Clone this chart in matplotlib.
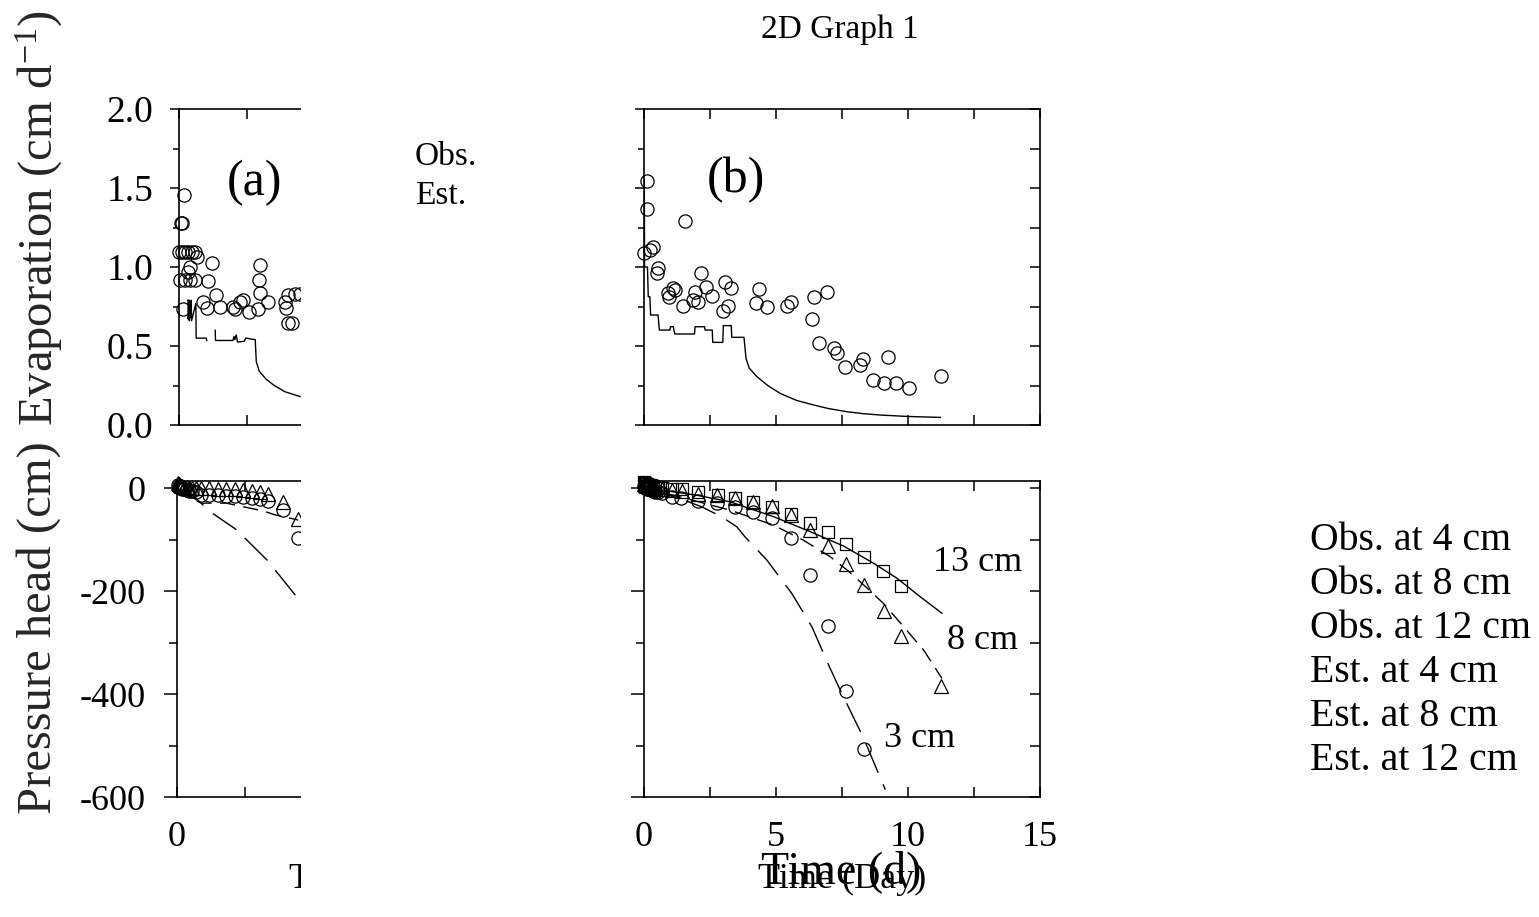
import matplotlib
matplotlib.use("Agg")
import matplotlib.pyplot as plt
import numpy as np
from matplotlib.patches import Rectangle
from matplotlib.ticker import MultipleLocator, FuncFormatter

plt.rcParams['font.family'] = ['Liberation Serif', 'DejaVu Serif']
plt.rcParams['mathtext.fontset'] = 'custom'
plt.rcParams['mathtext.rm'] = 'Liberation Serif'
plt.rcParams['mathtext.it'] = 'Liberation Serif:italic'

# ---------------- data: evaporation ----------------
# (a) observed evaporation
evap_a_obs_t = [0.18, 0.08, 0.12, 0.0, 0.10, 0.22, 0.34, 0.47, 0.59, 0.67, 0.40, 1.20, 0.34,
                0.04, 0.22, 0.40, 0.59, 1.08, 2.98, 2.95, 2.98, 1.36, 3.28, 0.87, 1.02, 1.51,
                1.97, 2.06, 2.36, 2.24, 2.57, 2.92, 3.90, 3.93, 4.02, 4.14, 4.02, 4.26, 4.45, 0.14]
evap_a_obs_v = [1.456, 1.276, 1.276, 1.097, 1.097, 1.097, 1.097, 1.097, 1.097, 1.065, 1.002, 1.028, 0.97,
                0.918, 0.918, 0.918, 0.918, 0.912, 1.013, 0.918, 0.833, 0.823, 0.781, 0.776, 0.738, 0.749,
                0.749, 0.732, 0.791, 0.78, 0.713, 0.732, 0.781, 0.738, 0.643, 0.643, 0.823, 0.827, 0.827, 0.732]
# (a) estimated evaporation (gaps as NaN)
evap_a_est_t = [0.33, 0.34, 0.37, 0.38, 0.41, 0.42, 0.45, 0.46, 0.62, 0.63, 1.00, 1.02, np.nan,
                1.33, 1.34, 1.98, 2.02, 2.05, 2.10, 2.15, 2.40, 2.45, 2.80, 2.84, 2.95, 3.20, 3.50, 3.90, 4.45]
evap_a_est_v = [0.79, 0.67, 0.79, 0.66, 0.78, 0.68, 0.79, 0.66, 0.77, 0.55, 0.55, 0.535, np.nan,
                0.60, 0.535, 0.535, 0.56, 0.54, 0.57, 0.525, 0.53, 0.55, 0.54, 0.40, 0.34, 0.29, 0.25, 0.21, 0.18]

# (b) observed evaporation
evap_b_obs_t = [0.12, 0.14, 0.00, 0.25, 0.35, 1.57, 0.56, 0.52, 0.94, 1.13, 0.98, 1.19, 1.51, 1.95,
                1.89, 2.08, 2.18, 2.37, 2.58, 3.09, 3.30, 3.21, 3.00, 4.38, 4.25, 4.69, 5.42, 5.59,
                6.46, 6.94, 6.37, 6.65, 7.22, 7.32, 7.63, 8.20, 8.30, 8.68, 9.11, 9.24, 9.55, 10.06, 11.26]
evap_b_obs_v = [1.544, 1.365, 1.087, 1.108, 1.128, 1.293, 0.992, 0.96, 0.834, 0.865, 0.812, 0.854, 0.755, 0.844,
                0.791, 0.78, 0.96, 0.872, 0.816, 0.907, 0.869, 0.755, 0.723, 0.859, 0.77, 0.745, 0.755, 0.78,
                0.812, 0.842, 0.671, 0.521, 0.485, 0.454, 0.369, 0.38, 0.416, 0.285, 0.268, 0.432, 0.268, 0.232, 0.312]
# (b) estimated evaporation
evap_b_est_t = [0.03, 0.04, 0.15, 0.18, 0.24, 0.27, 0.55, 0.60, 1.00, 1.02, 1.13, 1.15, 1.19, 1.93, 1.95,
                2.31, 2.33, 2.60, 2.62, 3.00, 3.02, 3.32, 3.34, 3.80, 3.88, 4.00, 4.29, 4.70, 5.17, 5.80,
                6.43, 7.00, 7.70, 8.30, 8.96, 10.00, 11.23]
evap_b_est_v = [1.55, 1.00, 1.00, 0.812, 0.812, 0.696, 0.696, 0.601, 0.601, 0.622, 0.622, 0.60, 0.576, 0.576, 0.622,
                0.622, 0.601, 0.601, 0.523, 0.523, 0.629, 0.629, 0.555, 0.555, 0.42, 0.36, 0.306, 0.25, 0.20, 0.155,
                0.127, 0.104, 0.084, 0.072, 0.063, 0.054, 0.048]

# ---------------- data: pressure head ----------------
early_t = [0.02, 0.06, 0.10, 0.15, 0.20, 0.27, 0.35, 0.45, 0.55, 0.70]
# (a)
ph_a_obs8_t = early_t + [0.88, 1.19, 1.50, 1.81, 2.12, 2.43, 2.74, 3.05, 3.36, 3.90, 4.45]
ph_a_obs8_v = [10, 8, 6, 5, 4, 3, 2, 1, 1, 0] + [0, 0, -1, -1, -2, -3, -5, -8, -12, -26, -60]
ph_a_obs4_t = early_t + [0.88, 1.19, 1.50, 1.81, 2.12, 2.43, 2.74, 3.05, 3.36, 3.90, 4.45]
ph_a_obs4_v = [6, 4, 2, 0, -1, -2, -3, -5, -6, -8] + [-13, -13, -14, -15, -16, -18, -19, -21, -25, -42, -97]
ph_a_est4_t = [0.0, 0.6, 1.20, 2.18, np.nan, 2.49, 3.35, 3.59, 4.32, 4.45]
ph_a_est4_v = [0.0, -15, -45, -80.5, np.nan, -96.7, -141.8, -158, -206, -215]
ph_a_est8_t = [0.0, 0.47, 0.89, 1.81, 2.67, 3.16, 3.59, 4.39, 4.45]
ph_a_est8_v = [0.0, -18, -29, -29, -38.7, -44, -51.6, -61, -62]

# (b)
ph_b_obs12_t = early_t + [1.07, 1.45, 2.08, 2.80, 3.47, 4.16, 4.88, 5.59, 6.28, 6.98, 7.67, 8.36, 9.06, 9.75]
ph_b_obs12_v = [12, 10, 9, 8, 7, 6, 4, 3, 2, 1] + [-0.6, -2.5, -7.2, -13.6, -18.8, -26.6, -36.3, -49.2,
                                                  -67.4, -84.9, -108.7, -134.6, -161.2, -190.3]
ph_b_obs8_t = early_t + [1.07, 1.45, 2.08, 2.77, 3.47, 4.16, 4.88, 5.59, 6.28, 6.98, 7.67, 8.36, 9.08, 9.75, 11.27]
ph_b_obs8_v = [8, 6, 5, 4, 3, 2, 1, 0, -1, -1] + [-4, -6, -10.4, -13.6, -20, -26.6, -35, -52.4, -81.6, -112,
                                                -147.6, -188, -238, -287, -384.5]
ph_b_obs4_t = early_t + [1.07, 1.42, 2.08, 2.77, 3.47, 4.16, 4.88, 5.59, 6.28, 6.98, 7.67, 8.36]
ph_b_obs4_v = [4, 2, 0, -1, -2, -3, -5, -7, -8, -10] + [-16.8, -20, -24.6, -29.7, -36.3, -46, -57, -96.5,
                                                      -169, -268, -393.6, -506.8]
ph_b_est12_t = [0.0, 1.0, 2.01, 3.28, 4.92, 6.31, 7.57, 8.71, 9.59, 10.47, 11.29]
ph_b_est12_v = [0.0, -6, -13.6, -26.5, -55.3, -84.5, -112.4, -146, -175, -211, -243]
ph_b_est8_t = [0.0, 0.7, 1.38, 3.28, 4.92, 6.05, 7.06, 7.70, 8.33, 9.08, 9.84, 10.6, 11.29]
ph_b_est8_v = [0.0, -8, -16.8, -42.7, -71.8, -101, -133, -159, -188, -224, -269, -314.6, -369.6]
ph_b_est4_t = [0.0, 1.38, 2.20, 2.96, 3.53, 3.84, 4.67, 5.61, 6.37, 7.06, 7.44, 8.33, 9.15]
ph_b_est4_v = [0.0, -20, -36.2, -55.6, -75, -94.5, -139.8, -204.5, -269.3, -350, -392, -486, -586]

legend_rows = ["Obs. at 4 cm", "Obs. at 8 cm", "Obs. at 12 cm",
               "Est. at 4 cm", "Est. at 8 cm", "Est. at 12 cm"]

# ---------------- figure ----------------
W, H = 1539, 917
fig = plt.figure(figsize=(W / 100, H / 100), dpi=100)


def box(x0, y0, x1, y1):
    return [x0 / W, 1 - y1 / H, (x1 - x0) / W, (y1 - y0) / H]


ax_ea = fig.add_axes(box(179, 109, 571, 425))
ax_eb = fig.add_axes(box(643.5, 109, 1040, 425))
ax_pa = fig.add_axes(box(177, 481, 569, 797))
ax_pb = fig.add_axes(box(643.5, 481, 1040, 797))


def style(ax, xmax, ylim, ymaj, ymin, ylabels, xlabels, ymajlen, yminlen, ypad, yfs):
    ax.set_xlim(0, xmax)
    ax.set_ylim(*ylim)
    ax.xaxis.set_major_locator(MultipleLocator(5))
    ax.xaxis.set_minor_locator(MultipleLocator(2.5))
    ax.yaxis.set_major_locator(MultipleLocator(ymaj))
    ax.yaxis.set_minor_locator(MultipleLocator(ymin))
    ax.tick_params(axis='y', which='major', direction='out', length=ymajlen, width=1.1,
                   left=True, right=False, labelleft=ylabels, labelsize=yfs, pad=ypad)
    ax.tick_params(axis='y', which='minor', direction='out', length=yminlen, width=1.1,
                   left=True, right=False)
    ax.tick_params(axis='x', which='both', direction='in', length=7, width=1.1,
                   top=True, bottom=True, labelbottom=xlabels, labelsize=26, pad=17)
    for s in ax.spines.values():
        s.set_linewidth(1.2)
    # inward ticks on the right-hand side
    tw = ax.twinx()
    tw.set_ylim(*ylim)
    tw.yaxis.set_major_locator(MultipleLocator(ymaj))
    tw.yaxis.set_minor_locator(MultipleLocator(ymin))
    tw.tick_params(axis='y', which='both', direction='in', length=7, width=1.1,
                   right=True, labelright=False)
    for s in tw.spines.values():
        s.set_visible(False)


style(ax_ea, 14.4, (0, 2.0), 0.5, 0.25, True, False, 6.5, 4.3, 12, 27)
style(ax_eb, 15, (0, 2.0), 0.5, 0.25, False, False, 6.5, 4.3, 12, 27)
style(ax_pa, 14.4, (-600, 14), 200, 100, True, True, 9.4, 5.8, 13, 26)
style(ax_pb, 15, (-600, 14), 200, 100, False, True, 9.4, 5.8, 13, 26)
ax_ea.yaxis.set_major_formatter(FuncFormatter(lambda v, p: f"{v:.1f}"))
for ax in (ax_pa, ax_pb):
    ax.yaxis.set_major_formatter(FuncFormatter(lambda v, p: f"{int(round(v))}"))
    ax.xaxis.set_major_formatter(FuncFormatter(lambda v, p: f"{int(round(v))}"))

circ = dict(marker='o', ms=9.5, mfc='none', mec='black', mew=0.9, ls='none', clip_on=False)
tri = dict(marker='^', ms=10, mfc='none', mec='black', mew=0.9, ls='none', clip_on=False)
sq = dict(marker='s', ms=8.5, mfc='none', mec='black', mew=0.9, ls='none', clip_on=False)

LW = 1.0
MED = (0, (11, 6))
LONG = (0, (23, 9))

ax_ea.plot(evap_a_obs_t, evap_a_obs_v, **circ)
ax_ea.plot(evap_a_est_t, evap_a_est_v, color='black', lw=LW)
ax_eb.plot(evap_b_obs_t, evap_b_obs_v, **circ)
ax_eb.plot(evap_b_est_t, evap_b_est_v, color='black', lw=LW)

ax_pa.plot(ph_a_obs4_t, ph_a_obs4_v, **circ)
ax_pa.plot(ph_a_obs8_t, ph_a_obs8_v, **tri)
ax_pa.plot(ph_a_est4_t, ph_a_est4_v, color='black', lw=LW, ls=LONG)
ax_pa.plot(ph_a_est8_t, ph_a_est8_v, color='black', lw=LW, ls=MED)

ax_pb.plot(ph_b_obs4_t, ph_b_obs4_v, **circ)
ax_pb.plot(ph_b_obs8_t, ph_b_obs8_v, **tri)
ax_pb.plot(ph_b_obs12_t, ph_b_obs12_v, **sq)
ax_pb.plot(ph_b_est4_t, ph_b_est4_v, color='black', lw=LW, ls=LONG)
ax_pb.plot(ph_b_est8_t, ph_b_est8_v, color='black', lw=LW, ls=MED)
ax_pb.plot(ph_b_est12_t, ph_b_est12_v, color='black', lw=LW)

# panel letters and depth labels
ax_ea.text(2.76, 1.53, "(a)", fontsize=36, ha='center', va='center')
ax_eb.text(3.5, 1.55, "(b)", fontsize=36, ha='center', va='center')
ax_pb.text(12.63, -144, "13 cm", fontsize=26, ha='center', va='center')
ax_pb.text(12.82, -295, "8 cm", fontsize=26, ha='center', va='center')
ax_pb.text(10.44, -487, "3 cm", fontsize=26, ha='center', va='center')

# x labels of both panels
for ax in (ax_pa, ax_pb):
    ax.set_xlabel("Time (Day)", fontsize=26, labelpad=7)

# titles (the left one sits under the mask)
fig.text(379 / W, 1 - 30 / H, "2D Graph 1", fontsize=24, ha='center', va='center', zorder=2)
fig.text(840 / W, 1 - 30 / H, "2D Graph 1", fontsize=24, ha='center', va='center', zorder=7)

# white mask over the right part of the left panels
fig.add_artist(Rectangle((301 / W, 0), (626 - 301) / W, 1, transform=fig.transFigure,
                         facecolor='white', edgecolor='none', zorder=5))

# legend of the evaporation panels
fig.text(415 / W, 1 - 157 / H, "Obs.", fontsize=24, ha='left', va='center', zorder=7)
fig.text(415 / W, 1 - 196 / H, "Est.", fontsize=24, ha='left', va='center', zorder=7)

# legend of the pressure head panels
for i, row in enumerate(legend_rows):
    fig.text(1310 / W, 1 - (541 + 44 * i) / H, row, fontsize=28.6, ha='left', va='center', zorder=7)

# shared axis titles
fig.text(841 / W, 1 - 872 / H, "Time (d)", fontsize=33, ha='center', va='center', zorder=7)
fig.text(39 / W, 1 - 218 / H, "Evaporation (cm d$^{-1}$)", fontsize=35, rotation=90,
         ha='center', va='center', zorder=7, alpha=0.85)
fig.text(39 / W, 1 - 628 / H, "Pressure head (cm)", fontsize=35, rotation=90,
         ha='center', va='center', zorder=7, alpha=0.85)

fig.savefig("out.png", dpi=100, facecolor='white')
